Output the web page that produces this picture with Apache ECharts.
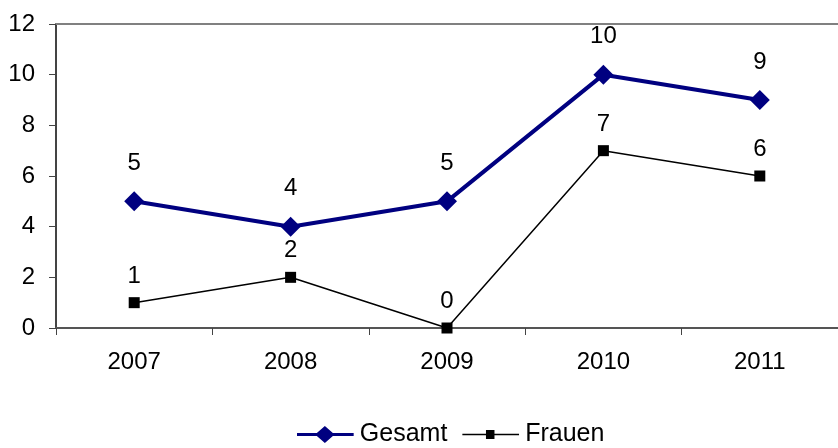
<!DOCTYPE html>
<html><head><meta charset="utf-8">
<script src="https://cdn.jsdelivr.net/npm/echarts@6/dist/echarts.min.js"></script>
<style>html,body{margin:0;padding:0;background:#fff}#c{width:838px;height:448px}</style>
</head><body><div id="c"></div>
<script>
const years = ['2007','2008','2009','2010','2011'];
const gesamt = [5,4,5,10,9];
const frauen = [1,2,0,7,6];
const yTicks = [0,2,4,6,8,10,12];

const font = 'Liberation Sans, Arial, sans-serif';
const FS = 24;
const iconGesamt = 'path://M0,6.3 L21,6.3 L29.5,-1 L38,6.3 L60,6.3 L60,9.7 L38,9.7 L29.5,17 L21,9.7 L0,9.7 Z';
const iconFrauen = 'path://M0,-1 L0.01,-1 L0.01,-0.99 Z M0,17 L0.01,17 L0.01,16.99 Z M0,7.3 L25,7.3 L25,3.2 L34,3.2 L34,7.3 L60,7.3 L60,8.7 L34,8.7 L34,12.8 L25,12.8 L25,8.7 L0,8.7 Z';
const chart = echarts.init(document.getElementById('c'));
chart.setOption({
  animation:false,
  grid:{left:56, top:24, right:-8, bottom:120},
  legend:{
    top:417, left:292, itemWidth:59, itemHeight:17, itemGap:15,
    textStyle:{fontFamily:font, fontSize:25, color:'#000'},
    data:[{name:'Gesamt', icon:iconGesamt},{name:'Frauen', icon:iconFrauen}]
  },
  xAxis:[{
    type:'category', data:years, boundaryGap:true,
    axisLine:{lineStyle:{color:'#555', width:2}},
    axisTick:{show:true, length:7, lineStyle:{color:'#444', width:1}},
    axisLabel:{fontFamily:font, fontSize:FS, color:'#000', margin:22},
  },{
    type:'category', data:years, position:'top',
    axisLine:{lineStyle:{color:'#808080', width:2}},
    axisTick:{show:false}, axisLabel:{show:false}
  }],
  yAxis:{
    type:'value', min:yTicks[0], max:yTicks[yTicks.length-1], interval:2,
    axisLine:{show:true, lineStyle:{color:'#444', width:2}},
    axisTick:{show:true, length:7, lineStyle:{color:'#444', width:1}},
    splitLine:{show:false},
    axisLabel:{fontFamily:font, fontSize:FS, color:'#000', margin:21}
  },
  series:[{
    name:'Gesamt', type:'line', data:gesamt,
    lineStyle:{color:'#000080', width:4},
    itemStyle:{color:'#000080'},
    symbol:'diamond', symbolSize:20,
    label:{show:true, position:'top', distance:16, fontFamily:font, fontSize:FS, color:'#000'}
  },{
    name:'Frauen', type:'line', data:frauen,
    lineStyle:{color:'#000', width:1.5},
    itemStyle:{color:'#000'},
    symbol:'rect', symbolSize:11,
    label:{show:true, position:'top', distance:9, fontFamily:font, fontSize:FS, color:'#000'}
  }]
});
</script></body></html>
